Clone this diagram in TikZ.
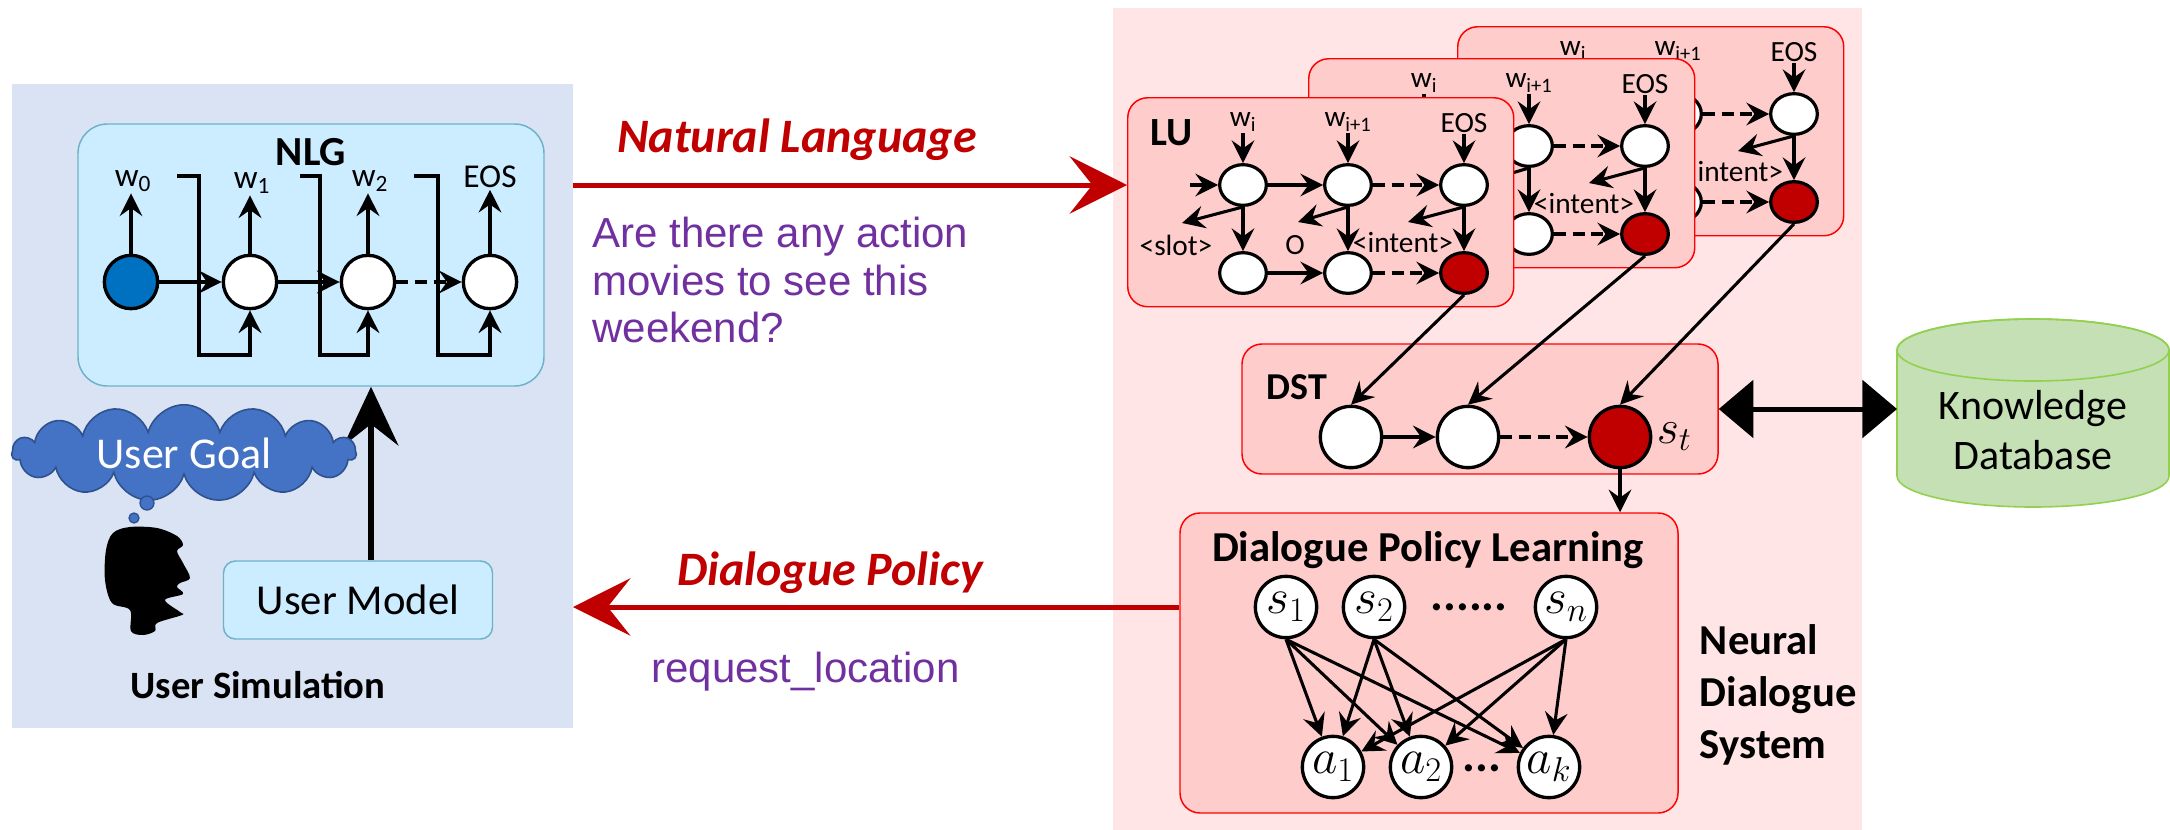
\RequirePackage{fix-cm}
\documentclass[tikz,border=0pt]{standalone}
\usepackage{fontspec}
\setmainfont{Carlito}
\newfontfamily\arialfont{Liberation Sans}
\usetikzlibrary{arrows.meta,shapes.geometric,shapes.symbols,positioning}

\tikzset{every picture/.style={line width=0.75pt}}

\begin{document}
\begin{tikzpicture}[x=0.75pt,y=0.75pt,yscale=-1,xscale=1,
  simbg/.style={fill={rgb, 255:red, 218; green, 227; blue, 243 }, inner sep=0pt, anchor=north west},
  sysbg/.style={fill={rgb, 255:red, 255; green, 229; blue, 229 }, inner sep=0pt, anchor=north west},
  cyanbox/.style={draw={rgb, 255:red, 110; green, 178; blue, 202 }, fill={rgb, 255:red, 204; green, 236; blue, 255 }, line width=1.1pt, inner sep=0pt},
  pinkbox/.style={draw={rgb, 255:red, 255; green, 0; blue, 0 }, fill={rgb, 255:red, 255; green, 204; blue, 204 }, line width=1.1pt, rounded corners=15pt, inner sep=0pt},
  cell/.style={circle, draw=black, fill=white, line width=2.5pt, inner sep=0pt},
  lucell/.style={ellipse, draw=black, fill=white, line width=2.4pt, minimum width=35pt, minimum height=30.5pt, inner sep=0pt},
  mathcell/.style={cell, minimum size=46pt, font=\fontsize{37}{40}\selectfont},
  hot/.style={fill={rgb, 255:red, 192; green, 0; blue, 0 }},
  arr/.style={line width=2.3pt, -{Stealth[length=17pt,width=17pt,inset=6pt]}},
  dashline/.style={dash pattern=on 9pt off 5pt},
  tag/.style={inner sep=1pt, font=\fontsize{25}{29}\selectfont},
  lutag/.style={inner sep=1pt, font=\fontsize{22}{26}\selectfont},
  boxtitle/.style={inner sep=0pt, font=\bfseries\fontsize{30}{36}\selectfont},
  flow/.style={draw={rgb, 255:red, 192; green, 0; blue, 0 }, line width=3.75pt, -{Stealth[length=43pt,width=43pt,inset=17pt]}},
  flowtag/.style={text={rgb, 255:red, 192; green, 0; blue, 0 }, font=\bfseries\itshape\fontsize{36}{43}\selectfont, inner sep=0pt},
  saytag/.style={text={rgb, 255:red, 112; green, 48; blue, 160 }, font=\arialfont\fontsize{31.5}{35.5}\selectfont, align=left, inner sep=0pt, anchor=west},
  bubble/.style={draw={rgb, 255:red, 47; green, 82; blue, 143 }, fill={rgb, 255:red, 68; green, 114; blue, 196 }, line width=1pt},
  dbshape/.style={draw={rgb, 255:red, 146; green, 208; blue, 80 }, fill={rgb, 255:red, 197; green, 224; blue, 180 }, line width=1.2pt}
]
\useasboundingbox (0,0) rectangle (2170,829);

%Shape: Rectangle [user simulation side]
\node[simbg, minimum width=420.75pt, minimum height=483pt] (simpanel) at (11,83) {};
%Shape: Rectangle [dialogue system side]
\node[sysbg, minimum width=561.75pt, minimum height=616.5pt] (syspanel) at (1112,7) {};

%NLG chain
\node[cyanbox, rounded corners=22pt, minimum width=349.5pt, minimum height=196.5pt] (nlgbox) at (311,255) {};
\node[boxtitle, font=\bfseries\fontsize{31}{36}\selectfont] (nlgtitle) at (311,152) {NLG};
\node[cell, minimum size=40pt, fill={rgb, 255:red, 0; green, 112; blue, 192 }] (n0) at (131,282) {};
\node[cell, minimum size=40pt] (n1) at (250,282) {};
\node[cell, minimum size=40pt] (n2) at (368,282) {};
\node[cell, minimum size=40pt] (n3) at (490,282) {};
% Text Node
\node[tag] (w0) at (133,181) {w\textsubscript{0}};
\node[tag] (w1) at (252,183) {w\textsubscript{1}};
\node[tag] (w2) at (370,181) {w\textsubscript{2}};
\node[tag] (w3) at (490,177) {EOS};
\foreach \i in {0,1,2,3}
  \draw[arr] (n\i) -- (n\i |- w\i.south);
\draw[arr] (n0) -- (n1);
\draw[arr] (n1) -- (n2);
\draw[arr, dashline] (n2) -- (n3);
%Straight Lines [feedback of each word]
\coordinate (fb1) at (177,176);
\coordinate (fb2) at (300,176);
\coordinate (fb3) at (414,176);
\draw[arr] (fb1) -- ++(22,0) -- ++(0,179) -| (n1.south);
\draw[arr] (fb2) -- ++(20,0) -- ++(0,179) -| (n2.south);
\draw[arr] (fb3) -- ++(24,0) -- ++(0,179) -| (n3.south);

%User model, goal and head
\node[cyanbox, rounded corners=9pt, minimum width=201.75pt, minimum height=58.5pt, font=\fontsize{32}{38}\selectfont] (umodel) at (358,600) {User Model};
\draw[line width=5pt, -{Stealth[length=44pt,width=41pt,inset=16pt]}] ([xshift=9.75pt]umodel.north) -- ([xshift=9.75pt]umodel.north |- nlgbox.south);
\node[cloud, cloud puffs=15, cloud ignores aspect, draw={rgb, 255:red, 47; green, 82; blue, 143 }, fill={rgb, 255:red, 68; green, 114; blue, 196 }, line width=1.2pt, minimum width=258pt, minimum height=51pt, text=white, font=\fontsize{33}{38}\selectfont] (goal) at (184,453) {User Goal};
\filldraw[bubble] (147,503) circle[radius=7];
\filldraw[bubble] (134,518) circle[radius=5];
\filldraw[bubble] (123,532) circle[radius=3];
%Shape: Head
\fill[black] plot[smooth cycle, tension=0.55] coordinates {(113,533) (130,527) (157,528) (177,536) (183,545) (177,551) (183,563) (190,578) (180,583) (177,587) (183,594) (165,600) (180,612) (182,615) (157,623) (155,631) (143,635) (131,631) (130,610) (112,603) (105,580) (106,550)};
\node[font=\bfseries\fontsize{29}{34}\selectfont] (simtitle) at (258,685) {User Simulation};

%LU stack, back to front
\foreach \k/\bx/\by in {3/1457/26,2/1308/58,1/1127/97}{
  \begin{scope}[shift={(\bx,\by)}]
    \node[pinkbox, anchor=north west, minimum width=289.5pt, minimum height=156.75pt] (lu\k-box) at (0,0) {};
    \node[lucell] (lu\k-t1) at (116,88) {};
    \node[lucell] (lu\k-t2) at (221,88) {};
    \node[lucell] (lu\k-t3) at (337,88) {};
    \node[lucell] (lu\k-b1) at (116,176) {};
    \node[lucell] (lu\k-b2) at (221,176) {};
    \node[lucell, hot] (lu\k-b3) at (337,176) {};
    \node[lutag] (lu\k-w1) at (116,25) {w\textsubscript{i}};
    \node[lutag] (lu\k-w2) at (221,25) {w\textsubscript{i+1}};
    \node[lutag] (lu\k-w3) at (337,26) {EOS};
    \node[lutag] (lu\k-l1) at (49,148) {<slot>};
    \node[lutag] (lu\k-l2) at (168,148) {O};
    \node[lutag] (lu\k-l3) at (276,146) {<intent>};
    \coordinate (lu\k-in) at (63,88);
    \coordinate (lu\k-o1) at (55,126);
    \coordinate (lu\k-o2) at (171,125);
    \coordinate (lu\k-o3) at (281,125);
    \draw[arr] (lu\k-in) -- (lu\k-t1);
    \draw[arr] (lu\k-t1) -- (lu\k-t2);
    \draw[arr, dashline] (lu\k-t2) -- (lu\k-t3);
    \draw[arr] (lu\k-b1) -- (lu\k-b2);
    \draw[arr, dashline] (lu\k-b2) -- (lu\k-b3);
    \foreach \j in {1,2,3}{
      \draw[arr] (lu\k-w\j) -- (lu\k-t\j);
      \draw[arr] (lu\k-t\j) -- (lu\k-b\j);
      \draw[arr] (lu\k-t\j.south) -- (lu\k-o\j);
    }
  \end{scope}
}
\node[boxtitle] (lutitle) at (1172,133) {LU};

%DST
\node[pinkbox, minimum width=357pt, minimum height=97.5pt] (dstbox) at (1480,409) {};
\node[boxtitle, font=\bfseries\fontsize{28.5}{34}\selectfont] (dsttitle) at (1297,387) {DST};
\node[cell, minimum size=46pt] (dst1) at (1351,437) {};
\node[cell, minimum size=46pt] (dst2) at (1468,437) {};
\node[cell, hot, minimum size=46pt] (dst3) at (1620,437) {};
\node[right=3pt of dst3, inner sep=0pt, font=\fontsize{36}{40}\selectfont] (st) {$s_t$};
\draw[arr] (dst1) -- (dst2);
\draw[arr, dashline] (dst2) -- (dst3);
\draw[arr] (lu1-b3.south) -- (dst1.north);
\draw[arr] (lu2-b3.south) -- (dst2.north);
\draw[arr] (lu3-b3.south) -- (dst3.north);

%Dialogue policy learning
\node[pinkbox, minimum width=373.5pt, minimum height=225pt] (dplbox) at (1429,663) {};
\draw[arr] (dst3.south) -- (dst3.south |- dplbox.north);
\node[boxtitle, font=\bfseries\fontsize{32}{38}\selectfont] (dpltitle) at (1428,550) {Dialogue Policy Learning};
\node[mathcell] (s1) at (1286,607) {$s_1$};
\node[mathcell] (s2) at (1374,607) {$s_2$};
\node[mathcell] (sn) at (1566,607) {$s_n$};
\node[inner sep=0pt, font=\bfseries\fontsize{36}{40}\selectfont] (sdots) at (1469,607) {......};
\node[mathcell] (a1) at (1333,767) {$a_1$};
\node[mathcell] (a2) at (1421,767) {$a_2$};
\node[mathcell] (ak) at (1549,767) {$a_k$};
\node[inner sep=0pt, font=\bfseries\fontsize{36}{40}\selectfont] (adots) at (1482,768) {...};
\foreach \s in {s1,s2,sn}
  \foreach \a in {a1,a2,ak}
    \draw[arr] (\s.south) -- (\a);
\node[anchor=west, align=left, font=\bfseries\fontsize{32}{39}\selectfont] (ndslabel) at (1695,695) {Neural\\Dialogue\\System};

%Shape: Can [knowledge database]
\filldraw[dbshape] (1897,350) -- (1897,476) arc[start angle=180, end angle=0, x radius=136, y radius=31] -- (2169,350) arc[start angle=0, end angle=-180, x radius=136, y radius=31] -- cycle;
\draw[dbshape, fill=none] (2033,350) ellipse [x radius=136, y radius=31];
\coordinate (kbin) at (1897,409);
\node[align=center, font=\fontsize{31.5}{37.5}\selectfont] (kb) at (2033,430) {Knowledge\\Database};
\draw[line width=3.75pt, {Triangle[length=26pt,width=43pt]}-{Triangle[length=26pt,width=43pt]}] (dstbox.east) -- (kbin);

%Messages between the two sides
\draw[flow] (simpanel.east |- lu1-t1) -- (lu1-box.west |- lu1-t1);
\node[flowtag] (nltag) at (797,140) {Natural Language};
\node[saytag] (say) at (592,280) {Are there any action\\movies to see this\\weekend?};
\draw[flow] (dplbox.west |- s1) -- (simpanel.east |- s1);
\node[flowtag] (dptag) at (830,573) {Dialogue Policy};
\node[saytag] (act) at (651,672) {request\_location};

\end{tikzpicture}
\end{document}
